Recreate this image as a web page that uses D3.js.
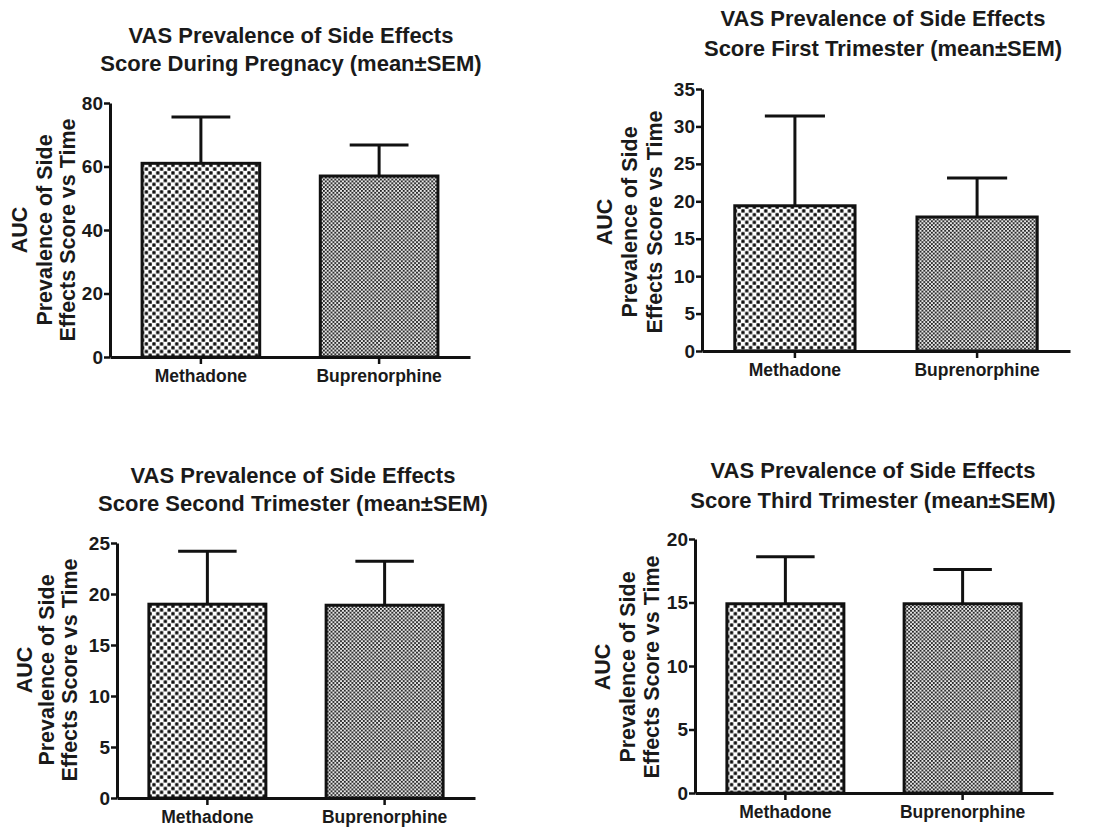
<!DOCTYPE html>
<html>
<head>
<meta charset="utf-8">
<script src="https://cdn.jsdelivr.net/npm/d3@7"></script>
<style>
  html, body { margin: 0; padding: 0; background: #fff; }
  svg { display: block; }
  text { font-family: "Liberation Sans", Arial, Helvetica, sans-serif; fill: #1a1a1a; font-weight: bold; }
</style>
</head>
<body>
<svg id="chart" width="1118" height="827"></svg>
<script>
// Treatment groups shared by every panel
const categories = ["Methadone", "Buprenorphine"];

// AUC of the VAS side-effect prevalence score (mean and SEM)
const meanPregnancy = [61.0, 57.0];
const semPregnancy  = [14.6, 9.8];
const meanFirst     = [19.4, 17.9];
const semFirst      = [12.0, 5.2];
const meanSecond    = [19.0, 18.9];
const semSecond     = [5.2, 4.3];
const meanThird     = [14.9, 14.9];
const semThird      = [3.7, 2.7];

// Y-axis ticks of each panel
const ticksPregnancy = [0, 20, 40, 60, 80];
const ticksFirst     = [0, 5, 10, 15, 20, 25, 30, 35];
const ticksSecond    = [0, 5, 10, 15, 20, 25];
const ticksThird     = [0, 5, 10, 15, 20];

const titlesPregnancy = ["VAS Prevalence of Side Effects", "Score During Pregnacy (mean\u00B1SEM)"];
const titlesFirst     = ["VAS Prevalence of Side Effects", "Score First Trimester (mean\u00B1SEM)"];
const titlesSecond    = ["VAS Prevalence of Side Effects", "Score Second Trimester (mean\u00B1SEM)"];
const titlesThird     = ["VAS Prevalence of Side Effects", "Score Third Trimester (mean\u00B1SEM)"];

const yLabelLines = ["AUC", "Prevalence of Side", "Effects Score vs Time"];

const panels = [
  { mean: meanPregnancy, sem: semPregnancy, ticks: ticksPregnancy, title: titlesPregnancy },
  { mean: meanFirst,     sem: semFirst,     ticks: ticksFirst,     title: titlesFirst },
  { mean: meanSecond,    sem: semSecond,    ticks: ticksSecond,    title: titlesSecond },
  { mean: meanThird,     sem: semThird,     ticks: ticksThird,     title: titlesThird }
];

// Page placement of each panel (pixels)
const layout = [
  { axisX: 110, zeroY: 357, topY: 103, endX: 470,  titleX: 291, titleY: [35, 63],   labelX: [20, 45, 68],    labelY: 230 },
  { axisX: 702, zeroY: 351, topY: 89,  endX: 1070, titleX: 883, titleY: [18, 48],   labelX: [605, 630, 655], labelY: 222 },
  { axisX: 117, zeroY: 798, topY: 543, endX: 475,  titleX: 293, titleY: [475, 503], labelX: [25, 47, 70],    labelY: 670 },
  { axisX: 695, zeroY: 793, topY: 539, endX: 1053, titleX: 873, titleY: [470, 500], labelX: [603, 628, 652], labelY: 667 }
];

const svg = d3.select("#chart");
svg.append("rect").attr("width", 1118).attr("height", 827).attr("fill", "#fff");

// Fill patterns: coarse dots for methadone, fine dots for buprenorphine
const defs = svg.append("defs");
const coarse = defs.append("pattern").attr("id", "dotsCoarse")
  .attr("patternUnits", "userSpaceOnUse").attr("width", 7.6).attr("height", 7.6);
coarse.append("rect").attr("width", 7.6).attr("height", 7.6).attr("fill", "#fff");
coarse.append("rect").attr("x", 0.3).attr("y", 0.3).attr("width", 3.3).attr("height", 3.3).attr("rx", 0.6).attr("fill", "#0d0d0d");
coarse.append("rect").attr("x", 4.1).attr("y", 4.1).attr("width", 3.3).attr("height", 3.3).attr("rx", 0.6).attr("fill", "#0d0d0d");

const fine = defs.append("pattern").attr("id", "dotsFine")
  .attr("patternUnits", "userSpaceOnUse").attr("width", 3.8).attr("height", 3.8);
fine.append("rect").attr("width", 3.8).attr("height", 3.8).attr("fill", "#e6e6e6");
fine.append("rect").attr("x", 0).attr("y", 0).attr("width", 1.8).attr("height", 1.8).attr("fill", "#1c1c1c");
fine.append("rect").attr("x", 1.9).attr("y", 1.9).attr("width", 1.8).attr("height", 1.8).attr("fill", "#1c1c1c");

const fills = ["url(#dotsCoarse)", "url(#dotsFine)"];

panels.forEach((p, i) => {
  const L = layout[i];
  const g = svg.append("g");

  const x = d3.scaleBand().domain(categories).range([L.axisX, L.endX])
    .paddingInner(0.34).paddingOuter(0.18);
  const y = d3.scaleLinear().domain([0, d3.max(p.ticks)]).range([L.zeroY, L.topY]);

  const rows = categories.map((c, k) => ({ c, mean: p.mean[k], sem: p.sem[k], fill: fills[k] }));

  // Bars
  g.selectAll("rect.bar").data(rows).join("rect").attr("class", "bar")
    .attr("x", d => x(d.c))
    .attr("y", d => y(d.mean))
    .attr("width", x.bandwidth())
    .attr("height", d => y(0) - y(d.mean))
    .attr("fill", d => d.fill)
    .attr("stroke", "#111").attr("stroke-width", 3);

  // Upper SEM whiskers
  const capW = x.bandwidth() * 0.5;
  g.selectAll("line.err").data(rows).join("line").attr("class", "err")
    .attr("x1", d => x(d.c) + x.bandwidth() / 2).attr("x2", d => x(d.c) + x.bandwidth() / 2)
    .attr("y1", d => y(d.mean)).attr("y2", d => y(d.mean + d.sem))
    .attr("stroke", "#111").attr("stroke-width", 3);
  g.selectAll("line.cap").data(rows).join("line").attr("class", "cap")
    .attr("x1", d => x(d.c) + x.bandwidth() / 2 - capW / 2)
    .attr("x2", d => x(d.c) + x.bandwidth() / 2 + capW / 2)
    .attr("y1", d => y(d.mean + d.sem)).attr("y2", d => y(d.mean + d.sem))
    .attr("stroke", "#111").attr("stroke-width", 3);

  // Y axis
  const ya = g.append("g").attr("transform", `translate(${L.axisX},0)`)
    .call(d3.axisLeft(y).tickValues(p.ticks).tickSize(6).tickSizeOuter(0).tickPadding(1));
  ya.select(".domain").attr("stroke", "#111").attr("stroke-width", 3);
  ya.selectAll(".tick line").attr("stroke", "#111").attr("stroke-width", 2.5);
  ya.selectAll(".tick text").style("font-size", "19px").attr("fill", "#1a1a1a");

  // X axis
  const xa = g.append("g").attr("transform", `translate(0,${L.zeroY})`)
    .call(d3.axisBottom(x).tickSize(7).tickSizeOuter(0).tickPadding(6));
  xa.select(".domain").attr("stroke", "#111").attr("stroke-width", 3);
  xa.selectAll(".tick line").attr("stroke", "#111").attr("stroke-width", 2.5);
  xa.selectAll(".tick text").style("font-size", "17.5px").attr("fill", "#1a1a1a");

  // Title
  g.selectAll("text.title").data(p.title).join("text").attr("class", "title")
    .attr("x", L.titleX).attr("y", (d, k) => L.titleY[k])
    .attr("text-anchor", "middle").attr("dominant-baseline", "central")
    .style("font-size", "22px").text(d => d);

  // Rotated y-axis caption
  g.selectAll("text.ylab").data(yLabelLines).join("text").attr("class", "ylab")
    .attr("transform", (d, k) => `translate(${L.labelX[k]},${L.labelY}) rotate(-90)`)
    .attr("text-anchor", "middle").attr("dominant-baseline", "central")
    .style("font-size", "21.5px").text(d => d);
});
</script>
</body>
</html>
